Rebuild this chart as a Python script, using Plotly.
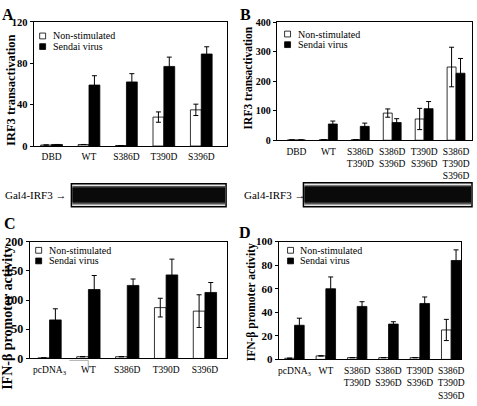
import plotly.graph_objects as go

W, H = 477, 406
SERIF = "Liberation Serif, Times New Roman, serif"

# ---------------- data ----------------
a_cats = ["DBD", "WT", "S386D", "T390D", "S396D"]
a_non = [1, 1.5, 0.5, 28, 35]
a_non_err = [None, None, None, 5, 5.5]
a_sen = [1.5, 59, 62, 77, 89]
a_sen_err = [None, 9, 8, 9, 7]
a_ticks = [0, 40, 80, 120]

b_cats = ["DBD", "WT", "S386D<br>T390D", "S386D<br>S396D", "T390D<br>S396D", "S386D<br>T390D<br>S396D"]
b_non = [1, 2, 2, 92, 72, 248]
b_non_err = [None, None, None, 14, 36, 67]
b_sen = [1, 55, 47, 60, 107, 227]
b_sen_err = [None, 10, 11, 13, 24, 50]
b_ticks = [0, 100, 200, 300, 400]

c_cats = ["pcDNA<sub>3</sub>", "WT", "S386D", "T390D", "S396D"]
c_non = [1, 3, 3, 87, 81]
c_non_err = [None, None, None, 16, 28]
c_sen = [66, 118, 125, 143, 113]
c_sen_err = [19, 24, 11, 27, 17]
c_ticks = [0, 50, 100, 150, 200]

d_cats = ["pcDNA<sub>3</sub>", "WT", "S386D<br>T390D", "S386D<br>S396D", "T390D<br>S396D", "S386D<br>T390D<br>S396D"]
d_non = [1, 3, 1.5, 1.5, 1.5, 25]
d_non_err = [None, None, None, None, None, 9]
d_sen = [29, 60, 45, 30, 47.5, 84]
d_sen_err = [6, 10, 4, 2, 5.5, 9]
d_ticks = [0, 20, 40, 60, 80, 100]

series_names = ["Non-stimulated", "Sendai virus"]
blot_label = "Gal4-IRF3 →"
titles = ["IRF3 transactivation", "IRF3 transactivation",
          "IFN-β promoter activity", "IFN-β promoter activity"]
letters = ["A", "B", "C", "D"]

# ---------------- layout geometry (pixels) ----------------
def px(x):
    return x / W

def py(y):
    return 1 - y / H

panels = [
    dict(cats=a_cats, non=a_non, nerr=a_non_err, sen=a_sen, serr=a_sen_err, ticks=a_ticks,
         box=(34, 229, 15.5, 144), xr=(-0.477, 4.689), bw=0.29, tfs=10.5,
         title=(11, 86, 12.5), letter=(8, 8), leg=(40, 30), cfs=9.5),
    dict(cats=b_cats, non=b_non, nerr=b_non_err, sen=b_sen, serr=b_sen_err, ticks=b_ticks,
         box=(279, 476, 15.7, 138), xr=(-0.62, 5.5), bw=0.28, tfs=10,
         title=(251, 73, 11.5), letter=(248, 8), leg=(287, 28), cfs=9.5),
    dict(cats=c_cats, non=c_non, nerr=c_non_err, sen=c_sen, serr=c_sen_err, ticks=c_ticks,
         box=(30, 229, 243, 364), xr=(-0.51, 4.57), bw=0.30, tfs=12,
         title=(8, 322, 14), letter=(10, 224), leg=(36, 252), cfs=9.5),
    dict(cats=d_cats, non=d_non, nerr=d_non_err, sen=d_sen, serr=d_sen_err, ticks=d_ticks,
         box=(281, 465, 243, 365), xr=(-0.506, 5.316), bw=0.31, tfs=11,
         title=(254, 306, 11.5), letter=(247, 234), leg=(290, 252), cfs=9.5),
]

fig = go.Figure()
shapes = []
annotations = []
layout_axes = {}

for i, p in enumerate(panels):
    n = "" if i == 0 else str(i + 1)
    xa, ya = "x" + n, "y" + n
    x0, x1, yt, yb = p["box"]
    fig.add_trace(go.Bar(
        x=p["cats"], y=p["non"], xaxis=xa, yaxis=ya, name=series_names[0],
        width=p["bw"], offset=-p["bw"],
        marker=dict(color="white", line=dict(color="black", width=0.8)),
        error_y=dict(type="data", array=p["nerr"], symmetric=True, color="black",
                     thickness=1, width=2.5),
        showlegend=False))
    fig.add_trace(go.Bar(
        x=p["cats"], y=p["sen"], xaxis=xa, yaxis=ya, name=series_names[1],
        width=p["bw"], offset=0,
        marker=dict(color="black", line=dict(color="black", width=0.8)),
        error_y=dict(type="data", array=p["serr"], symmetric=True, color="black",
                     thickness=1, width=2.5),
        showlegend=False))
    layout_axes["xaxis" + n] = dict(
        domain=[px(x0), px(x1)], anchor=ya, type="category",
        categoryorder="array", categoryarray=p["cats"],
        range=list(p["xr"]), showline=True, linecolor="black", linewidth=1,
        mirror=True, ticks="", showgrid=False, zeroline=False,
        tickfont=dict(family=SERIF, size=p["cfs"], color="black"),
        ticklabelstandoff=2)
    layout_axes["yaxis" + n] = dict(
        domain=[py(yb), py(yt)], anchor=xa, range=[0, p["ticks"][-1]],
        tickvals=p["ticks"], showline=True, linecolor="black", linewidth=1,
        mirror=True, ticks="outside", ticklen=3, tickcolor="black",
        showgrid=False, zeroline=False,
        tickfont=dict(family=SERIF, size=p["tfs"], color="black", weight="bold"))
    tx, ty, tfs = p["title"]
    annotations.append(dict(x=px(tx), y=py(ty), xref="paper", yref="paper",
                            text=titles[i], textangle=-90, showarrow=False,
                            font=dict(family=SERIF, size=tfs, color="black", weight="bold"),
                            xanchor="center", yanchor="middle"))
    lx, ly = p["letter"]
    annotations.append(dict(x=px(lx), y=py(ly), xref="paper", yref="paper",
                            text=letters[i], showarrow=False,
                            font=dict(family=SERIF, size=16, color="black", weight="bold"),
                            xanchor="center", yanchor="middle"))
    gx, gy = p["leg"]
    for k, col in enumerate(["white", "black"]):
        cy = gy + 11 * k
        shapes.append(dict(type="rect", xref="paper", yref="paper",
                           x0=px(gx), x1=px(gx + 6), y0=py(cy + 3), y1=py(cy - 3),
                           fillcolor=col, line=dict(color="black", width=0.8)))
        annotations.append(dict(x=px(gx + 11), y=py(cy), xref="paper", yref="paper",
                                text=series_names[k], showarrow=False,
                                font=dict(family=SERIF, size=10, color="black"),
                                xanchor="left", yanchor="middle"))

# western blots (A and B)
for (bx0, bx1, by0, by1, lx) in [(72, 228, 183, 207, 3), (306, 476, 182, 207, 244)]:
    shapes.append(dict(type="rect", xref="paper", yref="paper",
                       x0=px(bx0), x1=px(bx1), y0=py(by1), y1=py(by0),
                       fillcolor="#e6e6e6", line=dict(color="black", width=1.5)))
    shapes.append(dict(type="rect", xref="paper", yref="paper",
                       x0=px(bx0 + 1), x1=px(bx1 - 1), y0=py(by1 - 2.5), y1=py(by0 + 2.5),
                       fillcolor="#555555", line=dict(width=0)))
    shapes.append(dict(type="rect", xref="paper", yref="paper",
                       x0=px(bx0 + 1), x1=px(bx1 - 1), y0=py(by1 - 4.5), y1=py(by0 + 4),
                       fillcolor="#0a0a0a", line=dict(width=0)))
    annotations.append(dict(x=px(lx), y=py(195), xref="paper", yref="paper",
                            text=blot_label, showarrow=False,
                            font=dict(family=SERIF, size=11, color="black"),
                            xanchor="left", yanchor="middle"))

# small grey artefact lines under panel C (WT)
shapes.append(dict(type="line", xref="paper", yref="paper",
                   x0=px(70), x1=px(89), y0=py(366), y1=py(366),
                   line=dict(color="#999999", width=0.8)))
shapes.append(dict(type="line", xref="paper", yref="paper",
                   x0=px(89), x1=px(89), y0=py(366), y1=py(375),
                   line=dict(color="#999999", width=0.8)))

fig.update_layout(
    width=W, height=H, margin=dict(l=0, r=0, t=0, b=0),
    paper_bgcolor="white", plot_bgcolor="white", showlegend=False,
    shapes=shapes, annotations=annotations, **layout_axes)

fig.write_html("out.html", config={"displayModeBar": False},
               post_script="document.body.style.margin='0';document.body.style.overflow='hidden';")
